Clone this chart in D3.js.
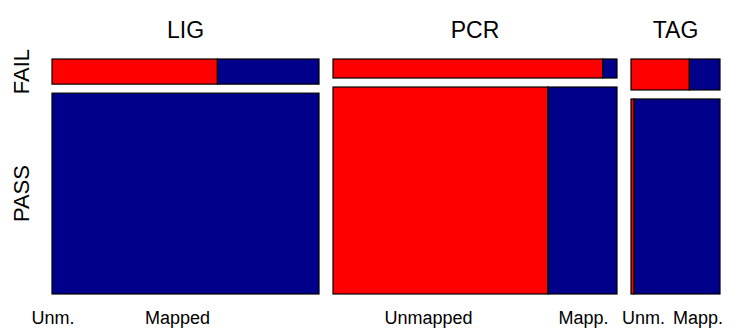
<!DOCTYPE html>
<html>
<head>
<meta charset="utf-8">
<script src="https://cdn.jsdelivr.net/npm/d3@7"></script>
<style>
  body { margin: 0; background: #fff; }
  text { font-family: "Liberation Sans", Arial, sans-serif; fill: #000; }
</style>
</head>
<body>
<svg id="chart" width="738" height="328"></svg>
<script>
// mosaic of assay type x QC result x mapping status (counts)
var assays = ['LIG', 'PCR', 'TAG'];
var results = ['FAIL', 'PASS'];
var mapping = ['Unmapped', 'Mapped'];
var shortMapping = ['Unm.', 'Mapp.'];

// [assay][result] = [unmapped, mapped]
var failCounts = [[184, 113], [227, 12], [80, 42]];
var passCounts = [[0, 2373], [1969, 632], [27, 741]];

// nudge for bottom labels so they don't run into each other
var labelShift = [[1, -8], [-12, 1], [11, 21]];

var colors = ['#ff0000', '#00008b'];

var svg = d3.select('#chart');
// note: 'top' clashes with window.top, so prefix these
var plotLeft = 52, plotRight = 720, plotTop = 59, plotBottom = 294;
var colGap = 14, rowGap = 9;

var totals = assays.map(function(a, i){
    return d3.sum(failCounts[i]) + d3.sum(passCounts[i]);
});
var grand = d3.sum(totals);

var xw = d3.scaleLinear()
    .domain([0, grand])
    .range([0, plotRight - plotLeft - colGap * (assays.length - 1)]);

var yh = d3.scaleLinear()
    .domain([0, 1])
    .range([0, plotBottom - plotTop - rowGap]);

var cells = [];
var cols = [];
var x0 = plotLeft;
assays.forEach(function(a, i){
    var w = xw(totals[i]);
    cols.push({name: a, x: x0, w: w});
    var rows = [failCounts[i], passCounts[i]];
    var y0 = plotTop;
    rows.forEach(function(r, j){
        var h = yh(d3.sum(r) / totals[i]);
        var cx = x0;
        r.forEach(function(v, k){
            var cw = w * v / d3.sum(r);
            cells.push({col: i, row: j, k: k, x: cx, y: y0, w: cw, h: h});
            cx += cw;
        });
        y0 += h + rowGap;
    });
    x0 += w + colGap;
});

svg.selectAll('rect.cell')
    .data(cells)
    .enter().append('rect')
    .attr('class', 'cell')
    .attr('x', function(d){ return d.x; })
    .attr('y', function(d){ return d.y; })
    .attr('width', function(d){ return d.w; })
    .attr('height', function(d){ return d.h; })
    .attr('fill', function(d){ return colors[d.k]; })
    .attr('stroke', '#000')
    .attr('stroke-width', 1.2);

// column titles
svg.selectAll('text.title')
    .data(cols)
    .enter().append('text')
    .attr('class', 'title')
    .attr('x', function(d){ return d.x + d.w / 2; })
    .attr('y', 38)
    .attr('text-anchor', 'middle')
    .attr('font-size', 23)
    .text(function(d){ return d.name; });

// row labels, placed against the first column
var firstRows = cells.filter(function(d){ return d.col === 0 && d.k === 0; });
svg.selectAll('text.rowlab')
    .data(firstRows)
    .enter().append('text')
    .attr('class', 'rowlab')
    .attr('transform', function(d){
        return 'translate(29,' + (d.y + d.h / 2) + ') rotate(-90)';
    })
    .attr('text-anchor', 'middle')
    .attr('font-size', 22)
    .text(function(d){ return results[d.row]; });

// bottom labels under the PASS cells
var lastRow = cells.filter(function(d){ return d.row === 1; });
svg.selectAll('text.maplab')
    .data(lastRow)
    .enter().append('text')
    .attr('class', 'maplab')
    .attr('x', function(d){ return d.x + d.w / 2 + labelShift[d.col][d.k]; })
    .attr('y', 324)
    .attr('text-anchor', 'middle')
    .attr('font-size', 18)
    .text(function(d){
        // narrow cells get the short name
        return d.w > 100 ? mapping[d.k] : shortMapping[d.k];
    });
</script>
</body>
</html>
